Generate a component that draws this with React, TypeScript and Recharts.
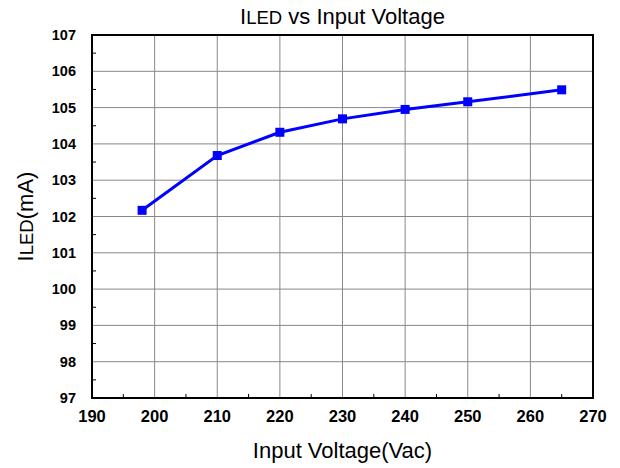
import { LineChart, Line, XAxis, YAxis, CartesianGrid, Label, ReferenceArea } from 'recharts';

const voltage = [198, 210, 220, 230, 240, 250, 265];
const iled = [102.17, 103.68, 104.32, 104.69, 104.95, 105.16, 105.49];

const xMajorTicks = [190, 200, 210, 220, 230, 240, 250, 260, 270];
const xMinorTicks = [195, 205, 215, 225, 235, 245, 255, 265];
const yMajorTicks = [97, 98, 99, 100, 101, 102, 103, 104, 105, 106, 107];
const yMinorTicks = [97.5, 98.5, 99.5, 100.5, 101.5, 102.5, 103.5, 104.5, 105.5, 106.5];

const data = voltage.map((v, i) => ({ voltage: v, iled: iled[i] }));

const xAllTicks = [...xMajorTicks, ...xMinorTicks].sort((a, b) => a - b);
const yAllTicks = [...yMajorTicks, ...yMinorTicks].sort((a, b) => a - b);
// grid only inside the frame, so it does not paint over the black border
const xGrid = xMajorTicks.slice(1, -1);
const yGrid = yMajorTicks.slice(1, -1);

const FONT = '"Liberation Sans", Arial, sans-serif';

const BottomTick = (props: any) => {
  const { x, y, payload } = props;
  if (xMajorTicks.includes(payload.value)) {
    return (
      <text x={x} y={y + 24} textAnchor="middle" fontSize={16.5} fontWeight="bold" fill="#000" fontFamily={FONT}>
        {payload.value}
      </text>
    );
  }
  return <line x1={x} x2={x} y1={y} y2={y - 4} stroke="#000" />;
};

const TopTick = (props: any) => {
  const { x, y, payload } = props;
  if (xMajorTicks.includes(payload.value)) return <g />;
  return <line x1={x} x2={x} y1={y} y2={y + 4} stroke="#000" />;
};

const LeftTick = (props: any) => {
  const { x, y, payload } = props;
  if (yMajorTicks.includes(payload.value)) {
    return (
      <text x={x - 16} y={y + 5} textAnchor="end" fontSize={14.5} fontWeight="bold" fill="#000" fontFamily={FONT}>
        {payload.value}
      </text>
    );
  }
  return <line x1={x} x2={x + 4} y1={y} y2={y} stroke="#000" />;
};

const RightTick = (props: any) => {
  const { x, y, payload } = props;
  if (yMajorTicks.includes(payload.value)) return <g />;
  return <line x1={x - 3} x2={x + 3} y1={y} y2={y} stroke="#000" />;
};

const SquareDot = (props: any) => {
  const { cx, cy, index } = props;
  return <rect key={index} x={cx - 4.5} y={cy - 4.5} width={9} height={9} fill="#0000ff" />;
};

const App = () => {
  return (
    <div style={{ position: 'absolute', left: 0, top: 0, background: '#fff' }}>
      <LineChart width={620} height={468} data={data} margin={{ top: 34, right: 26, left: 0, bottom: 0 }}>
        <CartesianGrid stroke="#888" verticalValues={xGrid} horizontalValues={yGrid} />
        <ReferenceArea
          x1={190}
          x2={270}
          y1={97}
          y2={107}
          fill="none"
          fillOpacity={0}
          stroke="#000"
          strokeWidth={2}
          strokeOpacity={1}
          ifOverflow="visible"
        >
          <Label
            content={({ viewBox }: any) => (
              <text x={viewBox.x + viewBox.width / 2} y={viewBox.y - 11} textAnchor="middle" fontSize={22} fill="#000" fontFamily={FONT}>
                <tspan>I</tspan>
                <tspan fontSize={18.5}>LED</tspan>
                <tspan>{' vs Input Voltage'}</tspan>
              </text>
            )}
          />
        </ReferenceArea>
        <XAxis
          dataKey="voltage"
          type="number"
          domain={[190, 270]}
          ticks={xAllTicks}
          interval={0}
          height={70}
          tickSize={0}
          tickMargin={0}
          tickLine={false}
          axisLine={{ stroke: '#000', strokeWidth: 2 }}
          tick={BottomTick}
        >
          <Label
            content={({ viewBox }: any) => (
              <text x={viewBox.x + viewBox.width / 2} y={viewBox.y + 60} textAnchor="middle" fontSize={22} fill="#000" fontFamily={FONT}>
                Input Voltage(Vac)
              </text>
            )}
          />
        </XAxis>
        <XAxis
          xAxisId="top"
          orientation="top"
          type="number"
          domain={[190, 270]}
          ticks={xAllTicks}
          interval={0}
          height={1}
          tickSize={0}
          tickMargin={0}
          tickLine={false}
          axisLine={{ stroke: '#000', strokeWidth: 2 }}
          tick={TopTick}
        />
        <YAxis
          type="number"
          domain={[97, 107]}
          ticks={yAllTicks}
          interval={0}
          width={92}
          tickSize={0}
          tickMargin={0}
          tickLine={false}
          axisLine={{ stroke: '#000', strokeWidth: 2 }}
          tick={LeftTick}
        >
          <Label
            content={({ viewBox }: any) => {
              const cy = viewBox.y + viewBox.height / 2;
              return (
                <text x={33} y={cy} textAnchor="middle" fontSize={22} fill="#000" fontFamily={FONT} transform={`rotate(-90, 33, ${cy})`}>
                  <tspan>I</tspan>
                  <tspan fontSize={18.5}>LED</tspan>
                  <tspan>(mA)</tspan>
                </text>
              );
            }}
          />
        </YAxis>
        <YAxis
          yAxisId="right"
          orientation="right"
          type="number"
          domain={[97, 107]}
          ticks={yAllTicks}
          interval={0}
          width={1}
          tickSize={0}
          tickMargin={0}
          tickLine={false}
          axisLine={{ stroke: '#000', strokeWidth: 2 }}
          tick={RightTick}
        />
        <Line
          type="linear"
          dataKey="iled"
          stroke="#0000ff"
          strokeWidth={3}
          dot={SquareDot}
          activeDot={false}
          isAnimationActive={false}
        />
      </LineChart>
    </div>
  );
};

export default App;
